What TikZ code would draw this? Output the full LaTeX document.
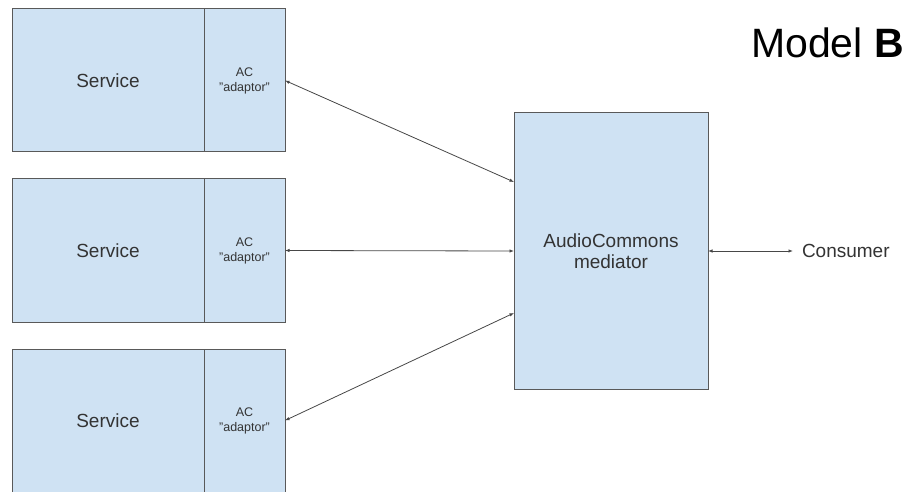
\documentclass[tikz,border=0pt]{standalone}
\usepackage{fontspec}
\setmainfont{Liberation Sans}
\definecolor{BoxFill}{HTML}{CFE2F3}
\definecolor{BoxLine}{HTML}{595959}
\definecolor{TextGrey}{HTML}{333333}
\usetikzlibrary{arrows.meta, positioning}

\begin{document}
\begin{tikzpicture}[x=1pt, y=1pt,
    svcbox/.style={draw=BoxLine, line width=1pt, fill=BoxFill, rectangle, outer sep=0pt, minimum width=192pt, minimum height=143pt, text=TextGrey, font=\fontsize{19}{22}\selectfont},
    acbox/.style={draw=BoxLine, line width=1pt, fill=BoxFill, rectangle, outer sep=0pt, minimum width=81pt, minimum height=143pt, text=TextGrey, align=center, font=\fontsize{12.5}{15}\selectfont},
    link/.style={{Latex[length=4.5pt, width=3.5pt]}-{Latex[length=4.5pt, width=3.5pt]}, line width=0.8pt, draw=BoxLine!80!black}]
    \useasboundingbox (0,0) rectangle (906,491);

    \node[svcbox] (svc1) at (108,410.5) {Service};
    \node[acbox, right=0pt of svc1] (ac1) {AC\\"adaptor"};
    \node[svcbox, below=27pt of svc1] (svc2) {Service};
    \node[acbox, right=0pt of svc2] (ac2) {AC\\"adaptor"};
    \node[svcbox, below=27pt of svc2] (svc3) {Service};
    \node[acbox, right=0pt of svc3] (ac3) {AC\\"adaptor"};

    \node[draw=BoxLine, line width=1pt, fill=BoxFill, outer sep=0pt, minimum width=194pt, minimum height=276pt, align=center, text=TextGrey, font=\fontsize{19}{21}\selectfont] (med) at (611,240) {AudioCommons\\mediator};
    \node[right=85pt of med, inner sep=9pt, outer sep=0pt, text=TextGrey, font=\fontsize{19}{22}\selectfont] (cons) {Consumer};

    \node[anchor=base east, inner sep=0pt, font=\fontsize{41}{44}\selectfont] (title) at (904,433) {Model \textbf{B}};

    \draw[link] (ac1.east) -- ([yshift=69pt]med.west);
    \draw[link] (ac2.east) -- (med.west);
    \draw[link] (ac3.east) -- ([yshift=-62pt]med.west);
    \draw[link] (med.east) -- (cons.west);
\end{tikzpicture}
\end{document}
